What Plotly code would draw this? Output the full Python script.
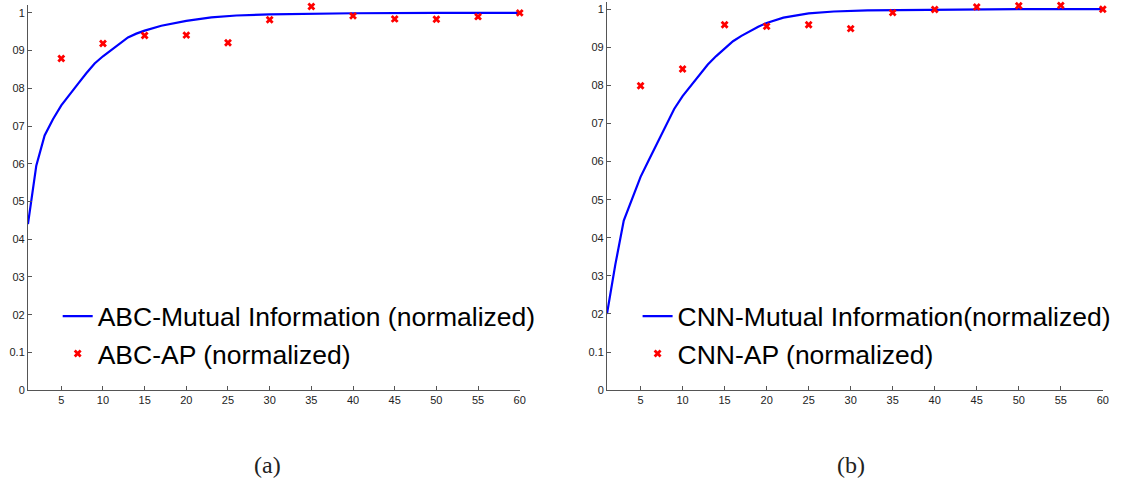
import plotly.graph_objects as go

# ---- data ----
mi_x_a = [1, 2, 3, 4, 5, 6, 7, 8, 9, 10, 11, 12, 13, 14, 15, 17, 20, 23, 26, 30, 35, 40, 50, 60]
mi_a = [0.44, 0.595, 0.675, 0.718, 0.755, 0.785, 0.812, 0.84, 0.866, 0.885, 0.902, 0.918,
        0.935, 0.945, 0.953, 0.966, 0.979, 0.988, 0.993, 0.996, 0.998, 0.999, 1.0, 1.0]
ap_x = [5, 10, 15, 20, 25, 30, 35, 40, 45, 50, 55, 60]
ap_a = [0.879, 0.919, 0.940, 0.941, 0.921, 0.982, 1.017, 0.992, 0.984, 0.983, 0.990, 1.0]

mi_x_b = [1, 2, 3, 4, 5, 6, 7, 8, 9, 10, 11, 12, 13, 14, 15, 16, 17, 18, 19, 20, 22, 25, 28, 32, 40, 50, 60]
mi_b = [0.20, 0.33, 0.445, 0.505, 0.56, 0.605, 0.65, 0.697, 0.738, 0.772, 0.80, 0.828, 0.855,
        0.877, 0.896, 0.916, 0.930, 0.943, 0.954, 0.964, 0.978, 0.989, 0.994, 0.997, 0.999, 1.0, 1.0]
ap_b = [0.799, 0.843, 0.959, 0.955, 0.959, 0.949, 0.991, 0.999, 1.006, 1.009, 1.010, 1.0]

names_a = ["ABC-Mutual Information (normalized)", "ABC-AP (normalized)"]
names_b = ["CNN-Mutual Information(normalized)", "CNN-AP (normalized)"]
captions = ["(a)", "(b)"]

xtick_vals = [5, 10, 15, 20, 25, 30, 35, 40, 45, 50, 55, 60]
ytick_vals = [0, 0.1, 0.2, 0.3, 0.4, 0.5, 0.6, 0.7, 0.8, 0.9, 1.0]
ytick_text = ["0", "0.1", "02", "03", "04", "05", "06", "07", "08", "09", "1"]

W, H = 1128, 489
BLUE = "#0000ff"
RED = "#ff0000"

fig = go.Figure()
fig.add_trace(go.Scatter(x=mi_x_a, y=mi_a, mode="lines", name=names_a[0],
                         line=dict(color=BLUE, width=2.2), xaxis="x", yaxis="y",
                         legend="legend", cliponaxis=False))
fig.add_trace(go.Scatter(x=ap_x, y=ap_a, mode="markers", name=names_a[1],
                         marker=dict(symbol="x", size=7, color=RED), xaxis="x", yaxis="y",
                         legend="legend", cliponaxis=False))
fig.add_trace(go.Scatter(x=mi_x_b, y=mi_b, mode="lines", name=names_b[0],
                         line=dict(color=BLUE, width=2.2), xaxis="x2", yaxis="y2",
                         legend="legend2", cliponaxis=False))
fig.add_trace(go.Scatter(x=ap_x, y=ap_b, mode="markers", name=names_b[1],
                         marker=dict(symbol="x", size=7, color=RED), xaxis="x2", yaxis="y2",
                         legend="legend2", cliponaxis=False))

def px_x(p):
    return p / W

def px_y(p):
    return 1 - p / H

tickfont = dict(family="Liberation Sans, Arial, sans-serif", size=11, color="#222")
axis_common = dict(showline=True, linecolor="#555", linewidth=1, ticks="inside",
                   ticklen=4, tickcolor="#555", showgrid=False, zeroline=False,
                   tickfont=tickfont, mirror=False)

legend_font = dict(family="Liberation Sans, Arial, sans-serif", size=26.5, color="#000")

fig.update_layout(
    width=W, height=H,
    margin=dict(l=0, r=0, t=0, b=0),
    paper_bgcolor="white", plot_bgcolor="white",
    xaxis=dict(domain=[px_x(28.1), px_x(522.5)], range=[1, 60], tickvals=xtick_vals,
               anchor="y", **axis_common),
    yaxis=dict(domain=[px_y(395), px_y(5.4)], range=[0, 1.02], tickvals=ytick_vals,
               ticktext=ytick_text, anchor="x", **axis_common),
    xaxis2=dict(domain=[px_x(610.2), px_x(1108.7)], range=[1, 60], tickvals=xtick_vals,
                anchor="y2", **axis_common),
    yaxis2=dict(domain=[px_y(395), px_y(1.6)], range=[0, 1.02], tickvals=ytick_vals,
                ticktext=ytick_text, anchor="x2", **axis_common),
    legend=dict(x=px_x(58), y=px_y(296), xanchor="left", yanchor="top",
                font=legend_font, bgcolor="rgba(0,0,0,0)", borderwidth=0,
                itemwidth=30, tracegroupgap=0),
    legend2=dict(x=px_x(641), y=px_y(296), xanchor="left", yanchor="top",
                 font=legend_font, bgcolor="rgba(0,0,0,0)", borderwidth=0,
                 itemwidth=30, tracegroupgap=0),
    showlegend=True,
)

cap_font = dict(family="Liberation Serif, DejaVu Serif, serif", size=24, color="#222")
fig.add_annotation(text=captions[0], x=px_x(269), y=px_y(471), xref="paper", yref="paper",
                   showarrow=False, font=cap_font, xanchor="center", yanchor="middle")
fig.add_annotation(text=captions[1], x=px_x(856), y=px_y(471), xref="paper", yref="paper",
                   showarrow=False, font=cap_font, xanchor="center", yanchor="middle")

fig.write_html("out.html")
